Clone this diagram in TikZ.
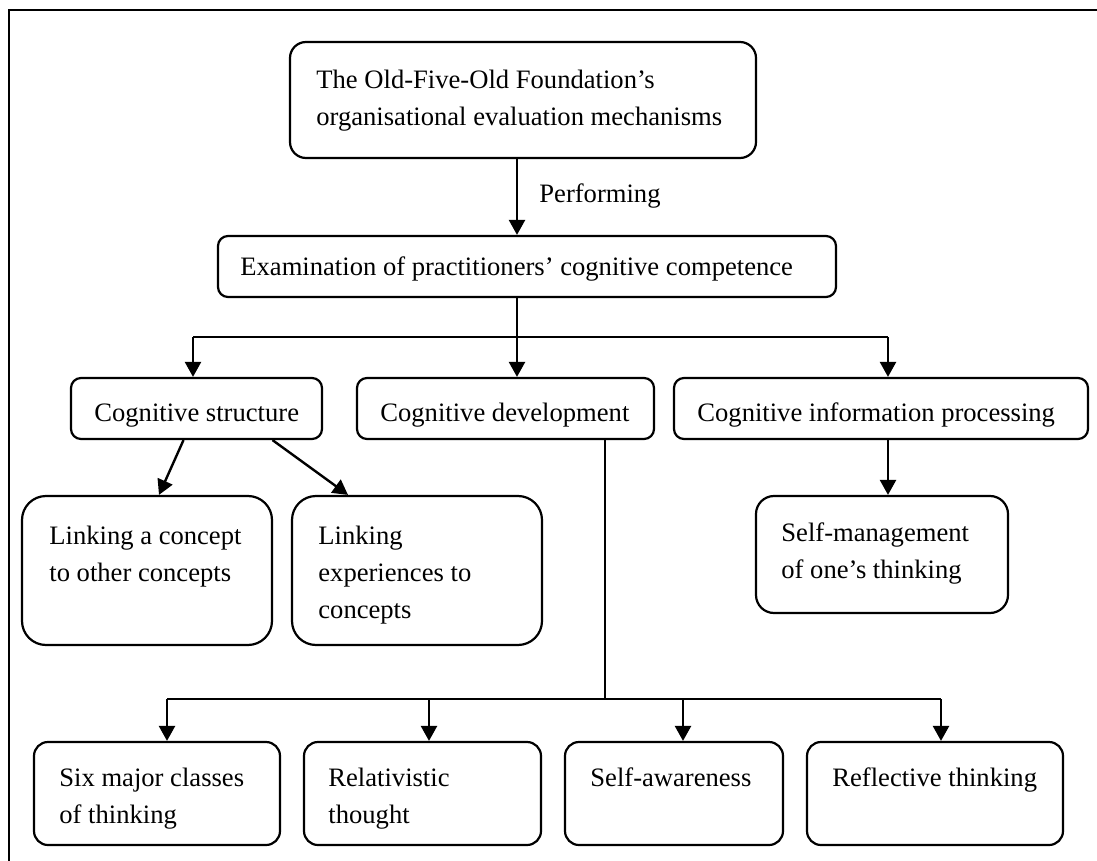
\documentclass[tikz,border=0pt]{standalone}
\usepackage{fontspec}
\setmainfont{Liberation Serif}
\usetikzlibrary{arrows.meta,fit,calc}
\begin{document}
\begin{tikzpicture}[x=0.5pt,y=-0.5pt,
  box/.style={draw, line width=1.1pt, inner sep=0pt, rounded corners=#1},
  box/.default=5pt,
  txt/.style={inner sep=0pt, anchor=base west, font=\fontsize{13.3}{18.5}\selectfont},
  arr/.style={line width=1.2pt, -{Triangle[length=7.5pt,width=8pt]}},
  ln/.style={line width=1.2pt}]
\useasboundingbox (0,0) rectangle (1097,861);
% frame
\draw[line width=1pt] (9,861) -- (9,10) -- (1097,10);
% boxes
\node[box=8pt, fit={(290,42) (756,158)}] (top) {};
\node[box=5pt, fit={(218,236) (836,297)}] (exam) {};
\node[box=5pt, fit={(71,378) (322,439)}] (cs) {};
\node[box=5pt, fit={(357,378) (654,439)}] (cd) {};
\node[box=5pt, fit={(674,378) (1088,439)}] (cip) {};
\node[box=12pt, fit={(22,496) (272,645)}] (lc) {};
\node[box=12pt, fit={(292,496) (542,645)}] (le) {};
\node[box=9pt, fit={(756,496) (1008,613)}] (sm) {};
\node[box=7pt, fit={(34,742) (280,845)}] (r1) {};
\node[box=7pt, fit={(304,742) (541,845)}] (r2) {};
\node[box=7pt, fit={(565,742) (783,845)}] (r3) {};
\node[box=7pt, fit={(807,742) (1063,845)}] (r4) {};
% texts
\node[txt] (top-t) at (316,89) {\parbox[t]{250pt}{The Old-Five-Old Foundation’s\\organisational evaluation mechanisms}};
\node[txt] (perf) at (539,203) {Performing};
\node[txt] (exam-t) at (240,276) {Examination of practitioners’ cognitive competence};
\node[txt] (cs-t) at (94,421) {Cognitive structure};
\node[txt] (cd-t) at (380,421) {Cognitive development};
\node[txt] (cip-t) at (697,421) {Cognitive information processing};
\node[txt] (lc-t) at (49,544) {\parbox[t]{120pt}{Linking a concept\\to other concepts}};
\node[txt] (le-t) at (318,544) {\parbox[t]{120pt}{Linking\\experiences to\\concepts}};
\node[txt] (sm-t) at (781,541) {\parbox[t]{120pt}{Self-management\\of one’s thinking}};
\node[txt] (r1-t) at (59,786) {\parbox[t]{120pt}{Six major classes\\of thinking}};
\node[txt] (r2-t) at (328,786) {\parbox[t]{120pt}{Relativistic\\thought}};
\node[txt] (r3-t) at (590,786) {Self-awareness};
\node[txt] (r4-t) at (832,786) {Reflective thinking};
% junction coordinates
\coordinate (j1) at (517,337);
\coordinate (b1) at (193,337);
\coordinate (b3) at (888,337);
\coordinate (j2) at (605,699);
\coordinate (d1) at (167,699);
\coordinate (d2) at (429,699);
\coordinate (d3) at (683,699);
\coordinate (d4) at (941,699);
% connectors
\draw[arr] (top.south -| j1) -- (exam.north -| j1);
\draw[ln] (exam.south -| j1) -- (j1);
\draw[ln] (b1) -- (b3);
\draw[arr] (b1) -- (b1 |- cs.north);
\draw[arr] (j1) -- (j1 |- cd.north);
\draw[arr] (b3) -- (b3 |- cip.north);
\draw[arr] ($(cs.south)+(-13,0)$) -- ($(lc.north)+(12,0)$);
\draw[arr] ($(cs.south)+(76,0)$) -- ($(le.north)+(-69,0)$);
\draw[arr] (cip.south -| b3) -- (sm.north -| b3);
\draw[ln] (cd.south -| j2) -- (j2);
\draw[ln] (d1) -- (d4);
\draw[arr] (d1) -- (d1 |- r1.north);
\draw[arr] (d2) -- (d2 |- r2.north);
\draw[arr] (d3) -- (d3 |- r3.north);
\draw[arr] (d4) -- (d4 |- r4.north);
\end{tikzpicture}
\end{document}
